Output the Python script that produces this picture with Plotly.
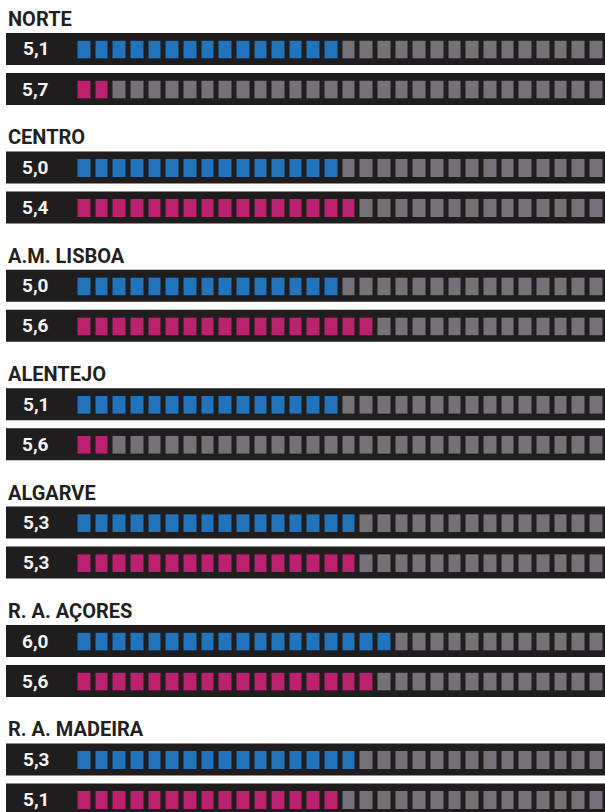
import plotly.graph_objects as go

# ---------------- data ----------------
regions = ["NORTE", "CENTRO", "A.M. LISBOA", "ALENTEJO", "ALGARVE", "R. A. AÇORES", "R. A. MADEIRA"]
blue_labels = ["5,1", "5,0", "5,0", "5,1", "5,3", "6,0", "5,3"]
pink_labels = ["5,7", "5,4", "5,6", "5,6", "5,3", "5,6", "5,1"]
blue_filled = [15, 15, 15, 15, 16, 18, 16]
pink_filled = [2, 16, 17, 2, 16, 17, 15]
n_cells = 30

# ---------------- style ----------------
W, H = 605, 812
BLUE = "#2173bb"
PINK = "#bb216e"
GRAY = "#747276"
DARK = "#1f1d1e"
TITLE_COL = "#231f20"
FONT = "Roboto"

group_step = 118.4
bar_top0 = 33.0
bar_h = 32.0
row_step = 40.0
sq_top_off = 7.6
sq_h = 18.0
bar_left = 6.0
cells_left = 75.5
cells_right = 605.0
gap_px = 5


def py(ypix):
    return 1 - ypix / H


def px(xpix):
    return xpix / W


fig = go.Figure()
shapes = []
annotations = []
layout_axes = {}

k = 0
for g, name in enumerate(regions):
    g_off = g * group_step
    annotations.append(dict(
        x=px(6), y=py(bar_top0 - 14 + g_off), xref="paper", yref="paper",
        xanchor="left", yanchor="middle", text="<b>%s</b>" % name, showarrow=False,
        font=dict(family=FONT, size=20, color=TITLE_COL)))
    rows = [(blue_labels[g], blue_filled[g], BLUE), (pink_labels[g], pink_filled[g], PINK)]
    for r, (lab, filled, col) in enumerate(rows):
        k += 1
        top = bar_top0 + g_off + r * row_step
        shapes.append(dict(type="rect", xref="paper", yref="paper",
                           x0=px(bar_left), x1=1, y0=py(top + bar_h), y1=py(top),
                           fillcolor=DARK, line=dict(width=0), layer="below"))
        annotations.append(dict(
            x=px(35.5), y=py(top + bar_h / 2), xref="paper", yref="paper",
            xanchor="center", yanchor="middle", text="<b>%s</b>" % lab, showarrow=False,
            font=dict(family=FONT, size=19, color="#f4f4f4")))
        sfx = "" if k == 1 else str(k)
        z = [[1 if i < filled else 0 for i in range(n_cells)]]
        fig.add_trace(go.Heatmap(
            z=z, x=list(range(n_cells)), y=[0],
            xaxis="x" + sfx, yaxis="y" + sfx,
            zmin=0, zmax=1,
            colorscale=[[0, GRAY], [0.5, GRAY], [0.5, col], [1, col]],
            showscale=False, xgap=gap_px, ygap=0, hoverinfo="skip"))
        layout_axes["xaxis" + sfx] = dict(
            domain=[px(cells_left), px(cells_right)], anchor="y" + sfx,
            range=[-0.5, n_cells - 0.5], visible=False, fixedrange=True)
        layout_axes["yaxis" + sfx] = dict(
            domain=[py(top + sq_top_off + sq_h), py(top + sq_top_off)], anchor="x" + sfx,
            range=[-0.5, 0.5], visible=False, fixedrange=True)

fig.update_layout(
    width=W, height=H, autosize=False,
    margin=dict(l=0, r=0, t=0, b=0, pad=0),
    paper_bgcolor="white", plot_bgcolor="rgba(0,0,0,0)",
    shapes=shapes, annotations=annotations,
    showlegend=False,
    **layout_axes)

fig.write_html(
    "out.html",
    config={"responsive": False, "displayModeBar": False},
    default_width="605px", default_height="812px",
    post_script="document.body.style.margin='0';document.body.style.padding='0';document.body.style.overflow='hidden';",
)
